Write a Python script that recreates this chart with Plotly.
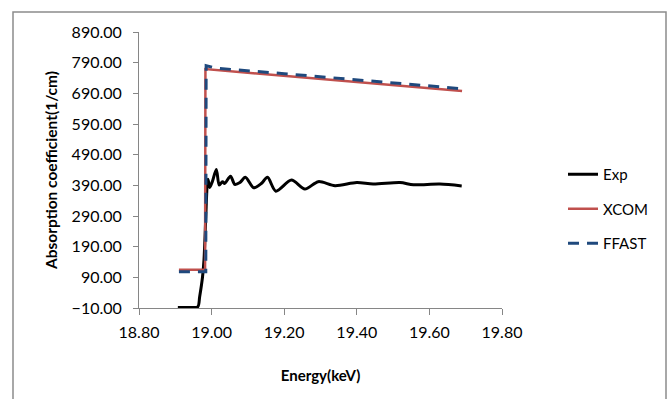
import plotly.graph_objects as go

# ---- data ----
exp_energy = [18.907, 18.940, 18.962, 18.967, 18.975, 18.979, 18.984, 18.9875, 18.990,
              18.995, 19.002, 19.013, 19.021, 19.030, 19.036, 19.052, 19.064, 19.078,
              19.093, 19.116, 19.137, 19.154, 19.177, 19.220, 19.257, 19.294, 19.340,
              19.400, 19.445, 19.519, 19.556, 19.629, 19.689]
exp_mu = [-8, -8, -6, 26, 91, 146, 287, 385, 410,
          383, 402, 442, 391, 402, 396, 420, 393, 399,
          416, 382, 396, 416, 371, 407, 378, 402, 389,
          399, 394, 399, 392, 394, 388]

xcom_energy = [18.910, 18.982, 18.983, 19.100, 19.300, 19.500, 19.690]
xcom_mu = [115, 115, 769, 757, 737, 717, 698]

ffast_energy = [18.910, 18.984, 18.985, 19.013, 19.200, 19.400, 19.690]
ffast_mu = [108, 108, 780, 772, 754, 734, 705]

x_ticks = [18.80, 19.00, 19.20, 19.40, 19.60, 19.80]
y_ticks = [-10, 90, 190, 290, 390, 490, 590, 690, 790, 890]

FONT = "Lato"
W, H = 668, 399
L, R, T, B = 139, 166, 32, 91
PW, PH = W - L - R, H - T - B

fig = go.Figure()
fig.add_trace(go.Scatter(x=exp_energy, y=exp_mu, mode="lines", name="Exp",
                         legendgroup="a",
                         line=dict(color="#000000", width=3, shape="spline", smoothing=0.8)))
fig.add_trace(go.Scatter(x=xcom_energy, y=xcom_mu, mode="lines", name="XCOM",
                         legendgroup="b",
                         line=dict(color="#C0504D", width=2.5)))
fig.add_trace(go.Scatter(x=ffast_energy, y=ffast_mu, mode="lines", name="FFAST",
                         legendgroup="c",
                         line=dict(color="#1F497D", width=3, dash="11px,8px")))

axis_color = "#868686"
fig.update_xaxes(range=[18.8, 19.8], tickvals=x_ticks, tickformat=".2f",
                 showgrid=False, zeroline=False, showline=True, linecolor=axis_color,
                 linewidth=1, ticks="outside", ticklen=6, tickcolor=axis_color,
                 tickfont=dict(family=FONT, size=16, color="#000000"),
                 ticklabelstandoff=4, automargin=False,
                 title=dict(text="<b>Energy(keV)</b>", font=dict(family=FONT, size=15, color="#000000"),
                            standoff=30))
fig.update_yaxes(range=[-10, 890], tickvals=y_ticks, tickformat=".2f",
                 showgrid=False, zeroline=False, showline=True, linecolor=axis_color,
                 linewidth=1, ticks="outside", ticklen=5, tickcolor=axis_color,
                 tickfont=dict(family=FONT, size=16, color="#000000"),
                 ticklabelstandoff=8, automargin=False,
                 title=dict(text="<b>Absorption coefficient(1/cm)</b>",
                            font=dict(family=FONT, size=15.5, color="#000000"), standoff=10))

# outer chart border
fig.add_shape(type="rect", xref="paper", yref="paper",
              x0=(13 - L) / PW, x1=(666 - L) / PW,
              y0=1 - (404 - T) / PH, y1=1 - (12 - T) / PH,
              line=dict(color="#8c8c8c", width=1.5), fillcolor="rgba(0,0,0,0)", layer="below")

fig.update_layout(
    width=W, height=H,
    margin=dict(l=L, r=R, t=T, b=B, autoexpand=False),
    paper_bgcolor="white", plot_bgcolor="white",
    font=dict(family=FONT, size=15, color="#000000"),
    showlegend=True,
    legend=dict(x=(563 - L) / PW, y=1 - (158 - T) / PH, xanchor="left", yanchor="top",
                traceorder="grouped", tracegroupgap=12,
                font=dict(family=FONT, size=15, color="#000000"),
                bgcolor="rgba(0,0,0,0)"),
)

fig.write_html("out.html", config={"displayModeBar": False},
               post_script="document.body.style.margin='0';")
